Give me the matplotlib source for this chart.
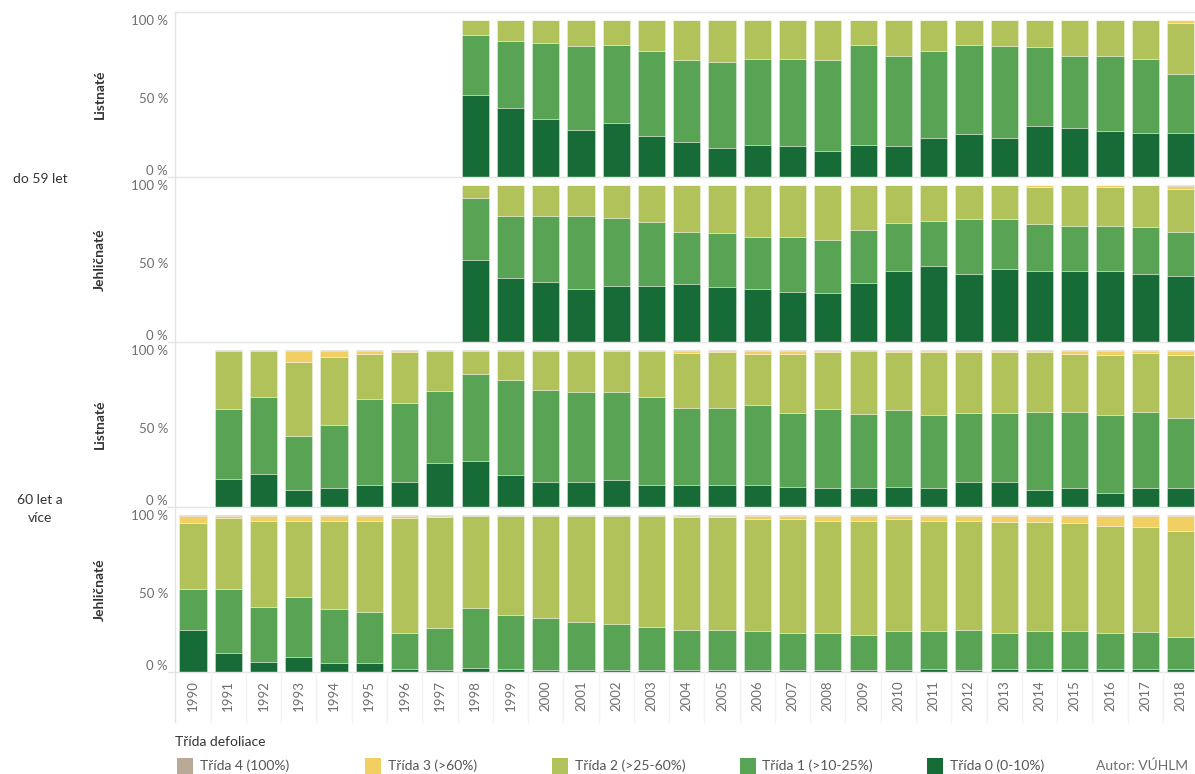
import matplotlib
matplotlib.use("Agg")
import matplotlib.pyplot as plt
import numpy as np
from matplotlib.lines import Line2D
from matplotlib.patches import Rectangle

plt.rcParams["font.family"] = ["Lato", "DejaVu Sans"]

years = list(range(1990, 2019))
year_labels = [str(y) for y in years]

class_names = ["Třída 0 (0-10%)", "Třída 1 (>10-25%)", "Třída 2 (>25-60%)",
               "Třída 3 (>60%)", "Třída 4 (100%)"]
class_colors = ["#176b36", "#59a354", "#b1c25a", "#f2cf63", "#b9aa97"]

age_groups = ["do 59 let", "60 let a\nvíce"]
species = ["Listnaté", "Jehličnaté"]

N = None
# do 59 let – listnaté (1998–2018)
young_broad_0 = [N] * 8 + [52.2, 43.7, 36.8, 30.0, 34.1, 26.2, 22.4, 18.7, 20.6, 19.6, 16.6,
                           20.4, 19.6, 24.7, 27.3, 24.7, 32.2, 31.1, 29.2, 28.3, 27.9]
young_broad_1 = [N] * 8 + [38.3, 42.8, 48.4, 53.3, 50.0, 54.1, 51.9, 54.8, 54.2, 55.2, 57.9,
                           63.9, 57.7, 55.6, 57.0, 58.6, 50.4, 46.2, 48.1, 46.5, 37.7]
young_broad_2 = [N] * 8 + [9.1, 13.1, 14.4, 16.3, 15.5, 19.3, 25.3, 26.1, 24.8, 24.8, 25.1,
                           15.3, 22.3, 19.3, 15.3, 16.3, 17.0, 22.3, 22.3, 24.8, 32.5]
young_broad_3 = [N] * 8 + [0.1, 0.1, 0.1, 0.1, 0.1, 0.1, 0.1, 0.1, 0.1, 0.1, 0.1,
                           0.1, 0.1, 0.1, 0.1, 0.1, 0.2, 0.1, 0.1, 0.1, 1.6]
young_broad_4 = [N] * 8 + [0.3] * 21

# do 59 let – jehličnaté (1998–2018)
young_conif_0 = [N] * 8 + [52.2, 40.6, 38.4, 33.8, 35.7, 35.7, 36.7, 35.0, 34.0, 31.8, 31.0,
                           37.8, 45.4, 48.4, 43.3, 46.3, 45.2, 45.2, 45.4, 43.3, 42.2]
young_conif_1 = [N] * 8 + [39.7, 39.4, 41.9, 46.2, 43.1, 40.5, 33.6, 34.2, 33.1, 35.3, 34.0,
                           33.5, 30.6, 28.3, 34.8, 31.8, 30.0, 28.9, 28.7, 29.7, 28.1]
young_conif_2 = [N] * 8 + [7.7, 19.6, 19.3, 19.6, 20.8, 23.4, 29.3, 30.4, 32.5, 32.5, 34.6,
                           28.3, 23.6, 22.9, 21.5, 21.5, 23.7, 25.5, 24.8, 26.6, 26.9]
young_conif_3 = [N] * 8 + [0.1, 0.1, 0.1, 0.1, 0.1, 0.1, 0.1, 0.1, 0.1, 0.1, 0.1,
                           0.1, 0.1, 0.1, 0.1, 0.1, 0.8, 0.2, 0.8, 0.2, 2.2]
young_conif_4 = [N] * 8 + [0.3] * 20 + [0.6]

# 60 let a více – listnaté (1991–2018)
old_broad_0 = [N] + [17.9, 20.9, 10.9, 12.4, 14.1, 15.8, 27.8, 29.5, 20.1, 15.8, 15.8, 16.9,
                     14.1, 14.1, 14.1, 14.1, 13.0, 12.2, 12.4, 13.0, 12.4, 15.8, 15.8, 10.9,
                     12.4, 9.2, 12.4, 12.4]
old_broad_1 = [N] + [44.3, 49.4, 34.2, 39.5, 54.9, 50.2, 46.1, 55.1, 60.7, 58.6, 57.1, 56.0,
                     56.0, 49.1, 49.1, 50.8, 46.6, 50.0, 46.6, 48.5, 45.9, 43.8, 43.8, 49.6,
                     48.1, 49.1, 48.1, 44.0]
old_broad_2 = [N] + [36.9, 28.9, 47.4, 43.4, 28.4, 32.5, 25.6, 14.9, 18.7, 25.1, 26.6, 26.6,
                     29.3, 34.9, 35.3, 32.5, 37.8, 36.3, 40.0, 37.3, 40.2, 38.9, 38.9, 38.0,
                     36.9, 38.7, 37.5, 40.6]
old_broad_3 = [N] + [0.4, 0.3, 7.0, 4.2, 2.1, 1.0, 0.0, 0.0, 0.0, 0.0, 0.0, 0.0,
                     0.1, 1.4, 1.0, 2.1, 2.1, 1.0, 0.5, 0.7, 1.0, 1.0, 1.0, 1.0,
                     2.1, 2.5, 1.5, 2.5]
old_broad_4 = [N] + [0.5] * 28

# 60 let a více – jehličnaté (1990–2018)
old_conif_0 = [26.9, 12.4, 6.6, 9.8, 6.0, 5.6, 1.7, 1.3, 2.6, 1.7, 1.1, 1.1, 1.1, 1.1, 1.1,
               1.1, 1.1, 1.1, 1.1, 1.1, 1.1, 1.7, 1.1, 1.6, 1.6, 1.6, 1.6, 1.6, 1.6]
old_conif_1 = [25.7, 40.6, 34.9, 38.1, 34.2, 32.9, 23.1, 26.5, 38.2, 34.4, 33.3, 30.5, 29.5,
               27.5, 25.8, 25.8, 24.8, 23.7, 23.7, 22.6, 24.8, 24.2, 25.8, 23.2, 24.3, 24.3,
               23.2, 23.6, 20.4]
old_conif_2 = [42.3, 45.1, 54.9, 48.5, 56.2, 57.9, 73.3, 71.1, 58.5, 63.2, 64.9, 67.7, 68.7,
               70.7, 71.6, 71.6, 71.5, 72.6, 71.6, 72.7, 71.5, 70.5, 69.5, 70.5, 69.4, 69.0,
               68.4, 67.3, 67.5]
old_conif_3 = [4.6, 1.4, 3.1, 3.1, 3.1, 3.1, 1.4, 0.6, 0.2, 0.2, 0.2, 0.2, 0.2, 0.2, 1.0,
               1.0, 2.1, 2.1, 3.1, 3.1, 2.1, 3.1, 3.1, 4.2, 4.2, 4.6, 6.3, 7.0, 10.0]
old_conif_4 = [0.5] * 29

panels = [
    (young_broad_0, young_broad_1, young_broad_2, young_broad_3, young_broad_4),
    (young_conif_0, young_conif_1, young_conif_2, young_conif_3, young_conif_4),
    (old_broad_0, old_broad_1, old_broad_2, old_broad_3, old_broad_4),
    (old_conif_0, old_conif_1, old_conif_2, old_conif_3, old_conif_4),
]
panel_species = [species[0], species[1], species[0], species[1]]

W, H = 1195, 774
fig = plt.figure(figsize=(W / 100, H / 100), dpi=100)

grid_col = "#e4e4e4"
tick_col = "#6e6e6e"
text_col = "#333333"

ax_left, ax_w = 175, 1020
ph = 165
top0 = 12
x = np.arange(len(years))
axes = []
for i, series in enumerate(panels):
    top_px = top0 + ph * i
    ax = fig.add_axes([ax_left / W, 1 - (top_px + ph) / H, ax_w / W, ph / H])
    axes.append(ax)
    bottom = np.zeros(len(years))
    for k in range(5):
        vals = np.array([np.nan if v is None else v for v in series[k]], dtype=float)
        ok = ~np.isnan(vals)
        ax.bar(x[ok], vals[ok], bottom=bottom[ok], width=0.77,
               color=class_colors[k], edgecolor=(1, 1, 1, 0.35), linewidth=0.7,
               zorder=2)
        bottom[ok] += vals[ok]
    ax.set_xlim(-0.51, 28.41)
    ax.set_ylim(0, 105)
    for s in ax.spines.values():
        s.set_visible(False)
    ax.set_yticks([0, 50, 100])
    ax.set_yticklabels(["0 %", "50 %", "100 %"])
    ax.tick_params(axis="y", length=0, pad=5, labelsize=9.5, labelcolor=tick_col)
    ax.get_yticklabels()[0].set_va("bottom")
    if i < 3:
        ax.set_xticks([])
    else:
        ax.set_xticks(x)
        ax.set_xticklabels(year_labels, rotation=90)
        ax.tick_params(axis="x", length=0, pad=6, labelsize=9.5, labelcolor=tick_col)
    # row header (species)
    fig.text(100 / W, 1 - (top_px + ph / 2) / H, panel_species[i], rotation=90,
             ha="center", va="center", fontsize=10, fontweight="bold", color=text_col)

# group headers (age)
fig.text(40 / W, 1 - 179 / H, age_groups[0], ha="center", va="center",
         fontsize=10, color=text_col)
fig.text(40 / W, 1 - 509 / H, age_groups[1], ha="center", va="center",
         fontsize=10, color=text_col, multialignment="center", linespacing=1.55)

# frame and separator lines
def hline(ypx, x0, x1, color=grid_col, lw=1.0):
    fig.add_artist(Line2D([x0 / W, x1 / W], [1 - ypx / H, 1 - ypx / H],
                          color=color, lw=lw, transform=fig.transFigure))

def vline(xpx, y0, y1, color=grid_col, lw=1.0):
    fig.add_artist(Line2D([xpx / W, xpx / W], [1 - y0 / H, 1 - y1 / H],
                          color=color, lw=lw, transform=fig.transFigure))

hline(top0, ax_left, W)
for i in range(1, 5):
    hline(top0 + ph * i, 168, W)
vline(ax_left, top0, 722)
pitch = ax_w / (28.41 + 0.51)
for j in range(1, 29):
    xb = ax_left + (j - 0.5 + 0.51) * pitch
    vline(xb, top0 + ph * 4, 722, color="#f2f2f2")

# legend
fig.text(175 / W, 1 - 742 / H, "Třída defoliace", ha="left", va="center",
         fontsize=10, color=text_col)
legend_order = [4, 3, 2, 1, 0]
for n, k in enumerate(legend_order):
    x0 = 177 + 187.5 * n
    fig.add_artist(Rectangle((x0 / W, 1 - 774 / H), 16 / W, 16 / H,
                             facecolor=class_colors[k], edgecolor="none",
                             transform=fig.transFigure))
    fig.text((x0 + 23) / W, 1 - 766 / H, class_names[k], ha="left", va="center",
             fontsize=10, color="#555555")
fig.text(1188 / W, 1 - 766 / H, "Autor: VÚHLM", ha="right", va="center",
         fontsize=10, color="#6e6e6e")

fig.savefig("out.png", dpi=100, facecolor="white")
